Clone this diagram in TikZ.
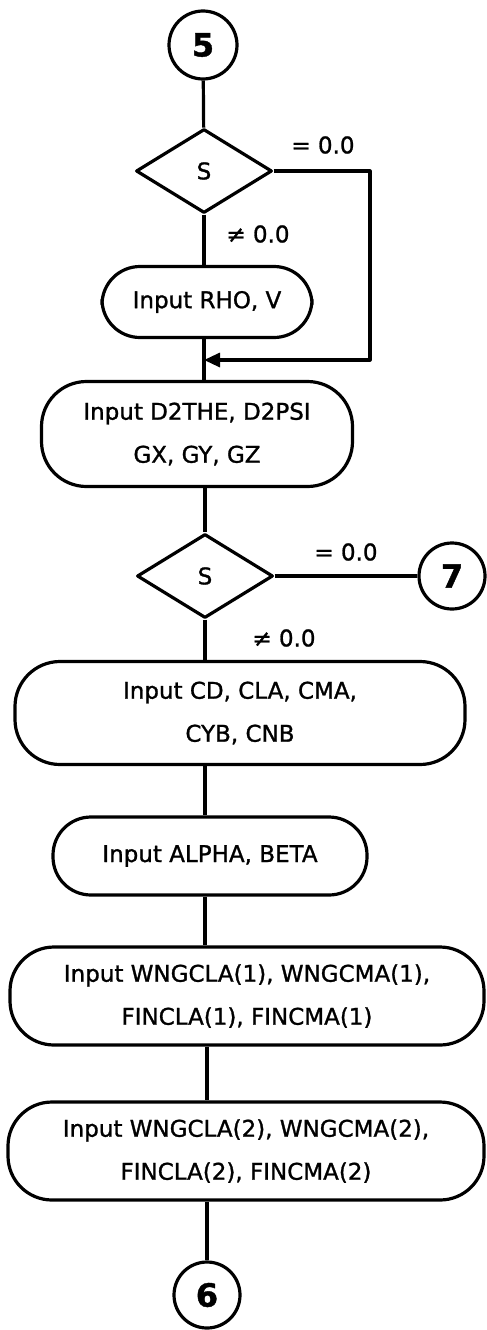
\documentclass[tikz,border=0pt]{standalone}
\usepackage{fontspec}
\setmainfont{DejaVu Sans}[FakeBold=1.2]
\usetikzlibrary{shapes.geometric,arrows.meta}
\tikzset{
  term/.style={draw,rectangle,rounded corners=38pt,align=center,inner sep=0pt},
  dec/.style={draw,diamond,aspect=1.63,inner sep=0pt,minimum width=136pt,minimum height=84pt},
  conn/.style={draw,circle,inner sep=0pt,minimum size=68pt,font=\fontsize{32}{32}\selectfont\bfseries},
}
\begin{document}
\begin{tikzpicture}[x=1pt,y=-1pt,line width=3.2pt,line join=round,font=\fontsize{23}{43}\selectfont,>={Triangle[length=16pt,width=14pt]}]
  \useasboundingbox (0,0) rectangle (487,1330);
  \node[conn] (c5) at (203,45) {5};
  \node[dec] (d1) at (204,171) {S};
  \node (eq1) at (323,145) {= 0.0};
  \node (ne1) at (258,234) {≠ 0.0};
  \node[term,minimum width=210pt,minimum height=71pt] (rho) at (207,302) {Input RHO, V};
  \coordinate (lp) at (370,360);
  \coordinate (mrg) at (204,360);
  \node[term,minimum width=311pt,minimum height=105pt,rounded corners=45pt] (d2the) at (197,434) {Input D2THE, D2PSI\\GX, GY, GZ};
  \node[dec] (d2) at (205,576) {S};
  \node (eq2) at (346,552) {= 0.0};
  \node[conn,minimum size=66pt] (c7) at (452,576) {7};
  \node (ne2) at (284,638) {≠ 0.0};
  \node[term,minimum width=450pt,minimum height=103pt,rounded corners=45pt] (cd) at (240,713) {Input CD, CLA, CMA,\\CYB, CNB};
  \node[term,minimum width=314pt,minimum height=78pt] (alpha) at (210,856) {Input ALPHA, BETA};
  \node[term,minimum width=474pt,minimum height=98pt,rounded corners=44pt] (w1) at (247,996) {Input WNGCLA(1), WNGCMA(1),\\FINCLA(1), FINCMA(1)};
  \node[term,minimum width=476pt,minimum height=98pt,rounded corners=44pt] (w2) at (246,1151) {Input WNGCLA(2), WNGCMA(2),\\FINCLA(2), FINCMA(2)};
  \node[conn,minimum size=66pt] (c6) at (207,1295) {6};
  % connectors
  \draw (c5) -- (d1);
  \draw (d1.south) -- (d1.south |- rho.north);
  \draw[->] (d1.east) -| (lp) -- (mrg);
  \draw (rho.south -| mrg) -- (d2the.north -| mrg);
  \draw (d2the.south -| d2.north) -- (d2.north);
  \draw (d2.east) -- (c7);
  \draw (d2.south) -- (d2.south |- cd.north);
  \draw (cd.south -| d2.south) -- (alpha.north -| d2.south);
  \draw (alpha.south -| d2.south) -- (w1.north -| d2.south);
  \draw (w1.south -| c6.north) -- (w2.north -| c6.north);
  \draw (w2.south -| c6.north) -- (c6);
\end{tikzpicture}
\end{document}
